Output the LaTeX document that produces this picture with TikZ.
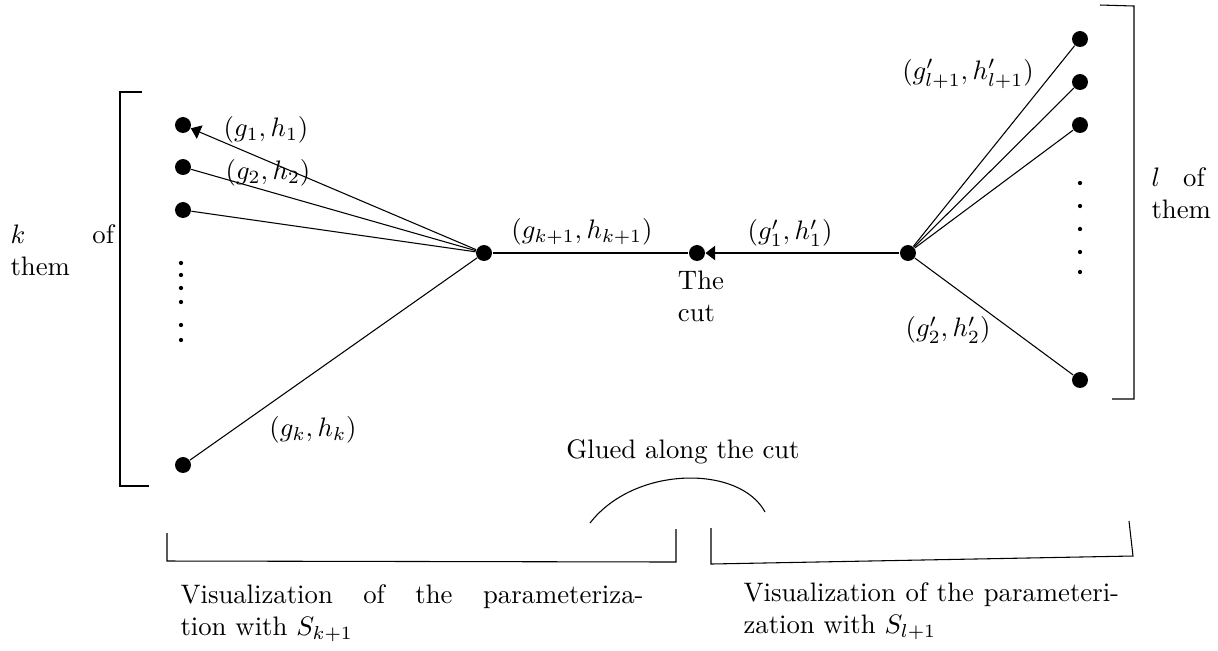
\documentclass[tikz,border=0pt]{standalone}
\usepackage{amsmath, amssymb}
\usepackage{tikz}
\usetikzlibrary{arrows.meta, positioning}
\tikzset{
  vtx/.style={circle, fill=black, inner sep=0pt, minimum size=0.21cm},
  edgelbl/.style={inner sep=1pt},
  cutarrow/.style={-{Triangle[length=3.6pt, width=5.4pt]}},
  sidetext/.style={anchor=north west, inner sep=0pt, align=justify}
}

\begin{document}
\begin{tikzpicture}[x=0.01316cm, y=-0.01316cm]
  \useasboundingbox (0,0) rectangle (1218,650);

  % left star
  \node[vtx] (a1) at (183,125) {};
  \node[vtx] (a2) at (183,167) {};
  \node[vtx] (a3) at (183,210) {};
  \node[vtx] (ak) at (183,465) {};
  \node[vtx] (c) at (484,253) {};
  \foreach \y in {263,275,288,302,325,340}
    \fill (181,\y) circle (0.8pt);

  % the cut and the right star
  \node[vtx] (cut) at (697,253) {};
  \node[vtx] (d) at (908,253) {};
  \node[vtx] (b1) at (1080,39) {};
  \node[vtx] (b2) at (1080,82) {};
  \node[vtx] (b3) at (1080,125) {};
  \node[vtx] (b4) at (1080,380) {};
  \foreach \y in {183,206,229,252,272}
    \fill (1080,\y) circle (0.8pt);

  \draw[cutarrow] (c) -- (a1);
  \draw (c) -- (a2);
  \draw (c) -- (a3);
  \draw (c) -- (ak);
  \draw (c) -- (cut);
  \draw[cutarrow] (d) -- (cut);
  \draw (d) -- (b1);
  \draw (d) -- (b2);
  \draw (d) -- (b3);
  \draw (d) -- (b4);

  % edge labels
  \node[edgelbl] (l1) at (266,130) {$(g_1,h_1)$};
  \node[edgelbl] (l2) at (268,173) {$(g_2,h_2)$};
  \node[edgelbl] (lk) at (313,430) {$(g_k,h_k)$};
  \node[edgelbl] (lkk) at (582,232) {$(g_{k+1},h_{k+1})$};
  \node[edgelbl] (m1) at (790,233) {$(g'_1,h'_1)$};
  \node[edgelbl] (mll) at (968,74) {$(g'_{l+1},h'_{l+1})$};
  \node[edgelbl] (m2) at (948,330) {$(g'_2,h'_2)$};
  \node[align=left, inner sep=0pt] (cuttext) at (701,296) {The\\cut};

  % brackets
  \draw (142,92) -- (120,92) -- (120,486) -- (149,486);
  \draw (1100,5) -- (1134,6) -- (1134,399) -- (1112,399);
  \node[sidetext, text width=1.36cm] (kthem) at (10,224) {$k$ of\linebreak them};
  \node[sidetext, text width=0.70cm] (lthem) at (1151,167) {$l$ of\linebreak them};

  % glueing
  \draw (167,533) -- (167,561) -- (676,562) -- (676,529);
  \draw (711,528) -- (711,564) -- (1133,556) -- (1129,521);
  \draw (590,523) .. controls (635,465) and (740,465) .. (765,512);
  \node[inner sep=0pt] (glue) at (683,452) {Glued along the cut};
  \node[sidetext, text width=6.09cm] (leftvis) at (180,584)
    {Visualization of the parameteriza-\linebreak tion with $S_{k+1}$};
  \node[sidetext, text width=4.94cm] (rightvis) at (743,582)
    {Visualization of the parameteri-\linebreak zation with $S_{l+1}$};
\end{tikzpicture}
\end{document}
